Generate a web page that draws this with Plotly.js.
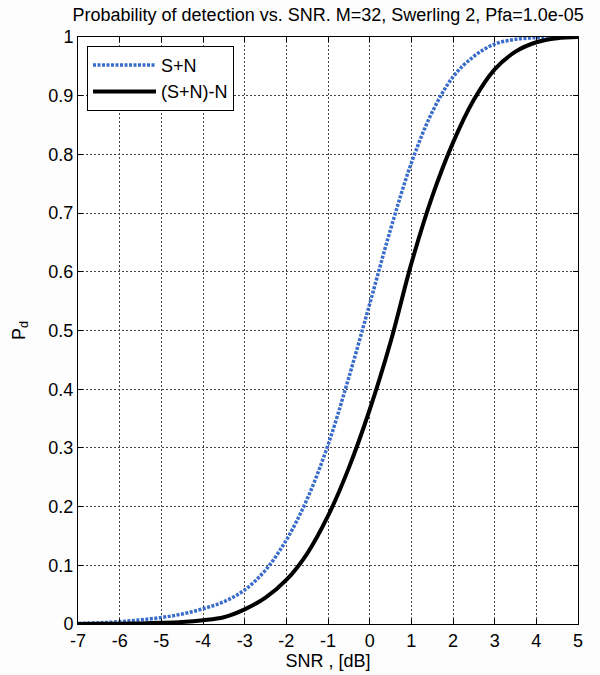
<!DOCTYPE html>
<html>
<head>
<meta charset="utf-8">
<script src="https://cdn.plot.ly/plotly-3.0.1.min.js"></script>
<style>html,body{margin:0;padding:0;background:#fdfdfe;}#chart{width:600px;height:675px;}</style>
</head>
<body>
<div id="chart"></div>
<script>
const snrSN = [-7, -6.5, -6, -5.5, -5, -4.5, -4, -3.5, -3, -2.5, -2, -1.5, -1, -0.5, 0, 0.5, 1, 1.5, 2, 2.5, 3, 3.5, 4, 4.5, 5];
const pdSN  = [0.001, 0.002, 0.004, 0.007, 0.011, 0.017, 0.026, 0.038, 0.058, 0.092, 0.143, 0.213, 0.305, 0.42, 0.545, 0.672, 0.785, 0.872, 0.932, 0.967, 0.988, 0.996, 0.999, 1.0, 1.0];
const snrSNN = [-7, -6.5, -6, -5.5, -5, -4.5, -4, -3.5, -3, -2.5, -2, -1.5, -1, -0.5, 0, 0.5, 1, 1.5, 2, 2.5, 3, 3.5, 4, 4.5, 5];
const pdSNN  = [0.0, 0.0003, 0.0006, 0.001, 0.002, 0.0035, 0.0065, 0.0116, 0.025, 0.045, 0.075, 0.120, 0.184, 0.266, 0.365, 0.48, 0.614, 0.728, 0.82, 0.893, 0.945, 0.975, 0.991, 0.998, 1.0];
const seriesNames = ['S+N', '(S+N)-N'];
const xTicks = [-7, -6, -5, -4, -3, -2, -1, 0, 1, 2, 3, 4, 5];
const yTicks = [0, 0.1, 0.2, 0.3, 0.4, 0.5, 0.6, 0.7, 0.8, 0.9, 1];

const font = 'Liberation Sans, Arial, Helvetica, sans-serif';

const traces = [
  {x: snrSN, y: pdSN, name: seriesNames[0], mode: 'lines',
   line: {color: '#3a6ccc', width: 3.5, dash: '3px,1.5px', shape: 'spline', smoothing: 1.0}},
  {x: snrSNN, y: pdSNN, name: seriesNames[1], mode: 'lines',
   line: {color: '#000000', width: 4, shape: 'spline', smoothing: 1.0}}
];

const axisCommon = {
  showline: true, linecolor: '#000', linewidth: 1, mirror: 'ticks',
  ticks: 'inside', ticklen: 5, tickcolor: '#000', tickwidth: 1,
  showgrid: true, gridcolor: '#444', gridwidth: 1, griddash: '2px,2px',
  zeroline: false, tickfont: {family: font, size: 18, color: '#000'}
};

const layout = {
  width: 600, height: 675,
  margin: {l: 78, r: 22, t: 37, b: 50.5},
  paper_bgcolor: '#fdfdfe', plot_bgcolor: '#ffffff',
  title: {text: 'Probability of detection vs. SNR. M=32, Swerling 2, Pfa=1.0e-05',
          font: {family: font, size: 18, color: '#000'}, x: 0.547, xanchor: 'center', y: 0.978, yanchor: 'middle'},
  xaxis: Object.assign({}, axisCommon, {range: [-7, 5], tickvals: xTicks, ticktext: xTicks.map(String),
          title: {text: 'SNR , [dB]', font: {family: font, size: 18, color: '#000'}, standoff: 2}}),
  yaxis: Object.assign({}, axisCommon, {range: [0, 1], tickvals: yTicks, ticktext: yTicks.map(String),
          title: {text: 'P<sub>d</sub>', font: {family: font, size: 18, color: '#000'}, standoff: 18}}),
  showlegend: true,
  legend: {x: 0.018, y: 0.985, xanchor: 'left', yanchor: 'top', bgcolor: '#ffffff',
           bordercolor: '#000', borderwidth: 1, itemwidth: 63,
           font: {family: font, size: 18, color: '#000'}, tracegroupgap: 0}
};

Plotly.newPlot('chart', traces, layout, {displayModeBar: false, staticPlot: true});
</script>
</body>
</html>
